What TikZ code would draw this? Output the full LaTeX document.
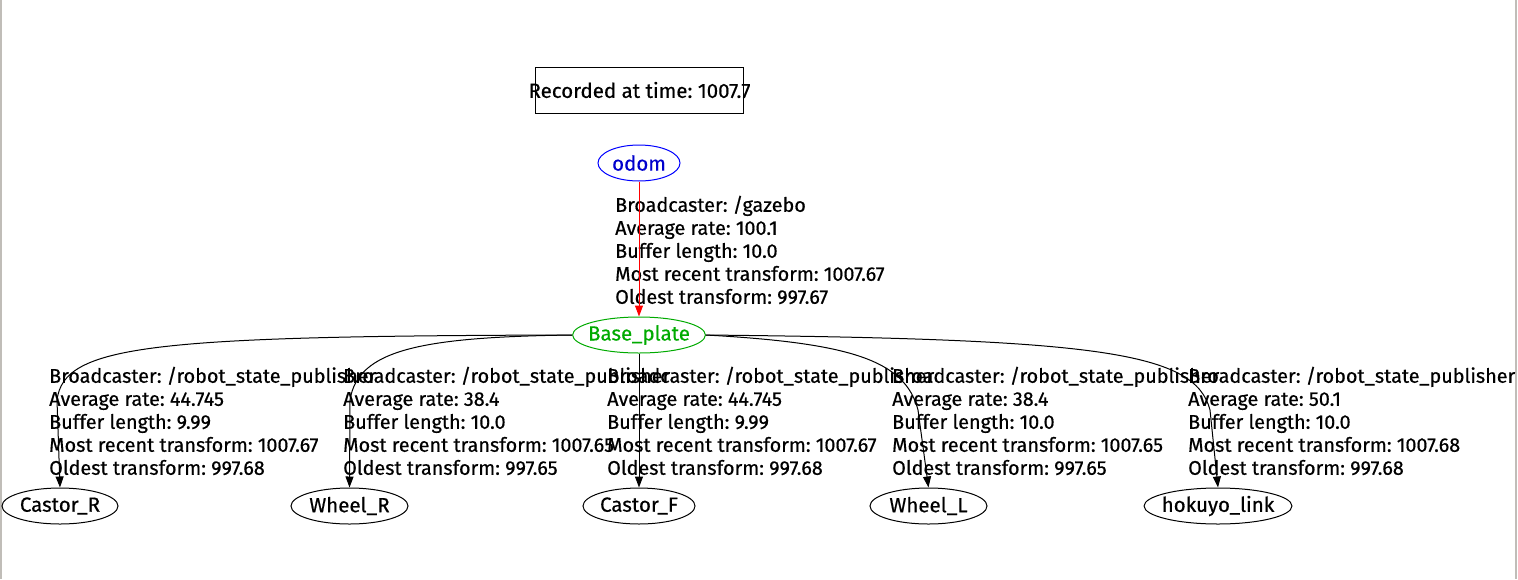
\documentclass[tikz,border=0pt]{standalone}
\usepackage{fontspec}
\setmainfont{Fira Sans}[UprightFeatures={FakeBold=0.5}]
\usetikzlibrary{shapes.geometric, arrows.meta, positioning}
\definecolor{odomblue}{RGB}{0,0,205}
\definecolor{basegreen}{RGB}{0,170,0}
\definecolor{edgegray}{RGB}{192,189,184}
\frenchspacing

\begin{document}
\begin{tikzpicture}[x=1pt, y=-1pt,
    frame/.style={rectangle, draw, line width=1pt, minimum width=205, minimum height=46, inner xsep=-7pt, inner ysep=0pt, font=\fontsize{20.5}{23}\selectfont},
    link/.style={ellipse, draw, line width=1pt, minimum height=36, inner xsep=-4pt, inner ysep=0pt, font=\fontsize{20.5}{23}\selectfont},
    info/.style={anchor=west, align=left, inner sep=0pt, font=\fontsize{19.8}{23}\selectfont},
    arrow/.style={draw, line width=1pt, -{Triangle[length=11pt, width=8pt]}}
]
\useasboundingbox (0,0) rectangle (1518,579);
\fill[edgegray] (0,0) rectangle (2,579);
\fill[edgegray] (1515,0) rectangle (1517,579);

% Nodes
\node[frame] (stamp) at (639.5,90) {Recorded at time: 1007.7};
\node[link, draw=blue, text=odomblue, minimum width=82] (odom) at (639,163) {odom};
\node[link, draw=basegreen, text=basegreen, minimum width=132] (base) at (639,335) {Base\_plate};
\node[link, minimum width=116] (castorR) at (60,506) {Castor\_R};
\node[link, minimum width=117] (wheelR) at (349.5,506) {Wheel\_R};
\node[link, minimum width=112] (castorF) at (639,506) {Castor\_F};
\node[link, minimum width=117] (wheelL) at (928.5,506) {Wheel\_L};
\node[link, minimum width=146] (hokuyo) at (1218,506) {hokuyo\_link};

% Edge labels
\node[info] (lgazebo) at (615,250) {Broadcaster: /gazebo\\Average rate: 100.1\\Buffer length: 10.0\\Most recent transform: 1007.67\\Oldest transform: 997.67};
\node[info] (lcastorR) at (49,421) {Broadcaster: /robot\_state\_publisher\\Average rate: 44.745\\Buffer length: 9.99\\Most recent transform: 1007.67\\Oldest transform: 997.68};
\node[info] (lwheelR) at (343,421) {Broadcaster: /robot\_state\_publisher\\Average rate: 38.4\\Buffer length: 10.0\\Most recent transform: 1007.65\\Oldest transform: 997.65};
\node[info] (lcastorF) at (607,421) {Broadcaster: /robot\_state\_publisher\\Average rate: 44.745\\Buffer length: 9.99\\Most recent transform: 1007.67\\Oldest transform: 997.68};
\node[info] (lwheelL) at (892,421) {Broadcaster: /robot\_state\_publisher\\Average rate: 38.4\\Buffer length: 10.0\\Most recent transform: 1007.65\\Oldest transform: 997.65};
\node[info] (lhokuyo) at (1188,421) {Broadcaster: /robot\_state\_publisher\\Average rate: 50.1\\Buffer length: 10.0\\Most recent transform: 1007.68\\Oldest transform: 997.68};

% Connections
\draw[arrow, red] (odom) -- (base);
\draw[arrow] (base.west) .. controls (150,336) and (64,345) .. (57,400) -- (castorR.north);
\draw[arrow] (base.west) .. controls (420,337) and (358,350) .. (350,400) -- (wheelR.north);
\draw[arrow] (base) -- (castorF);
\draw[arrow] (base.east) .. controls (850,343) and (905,360) .. (918,410) -- (wheelL.north);
\draw[arrow] (base.east) .. controls (1100,339) and (1195,352) .. (1210,410) -- (hokuyo.north);

\end{tikzpicture}
\end{document}
